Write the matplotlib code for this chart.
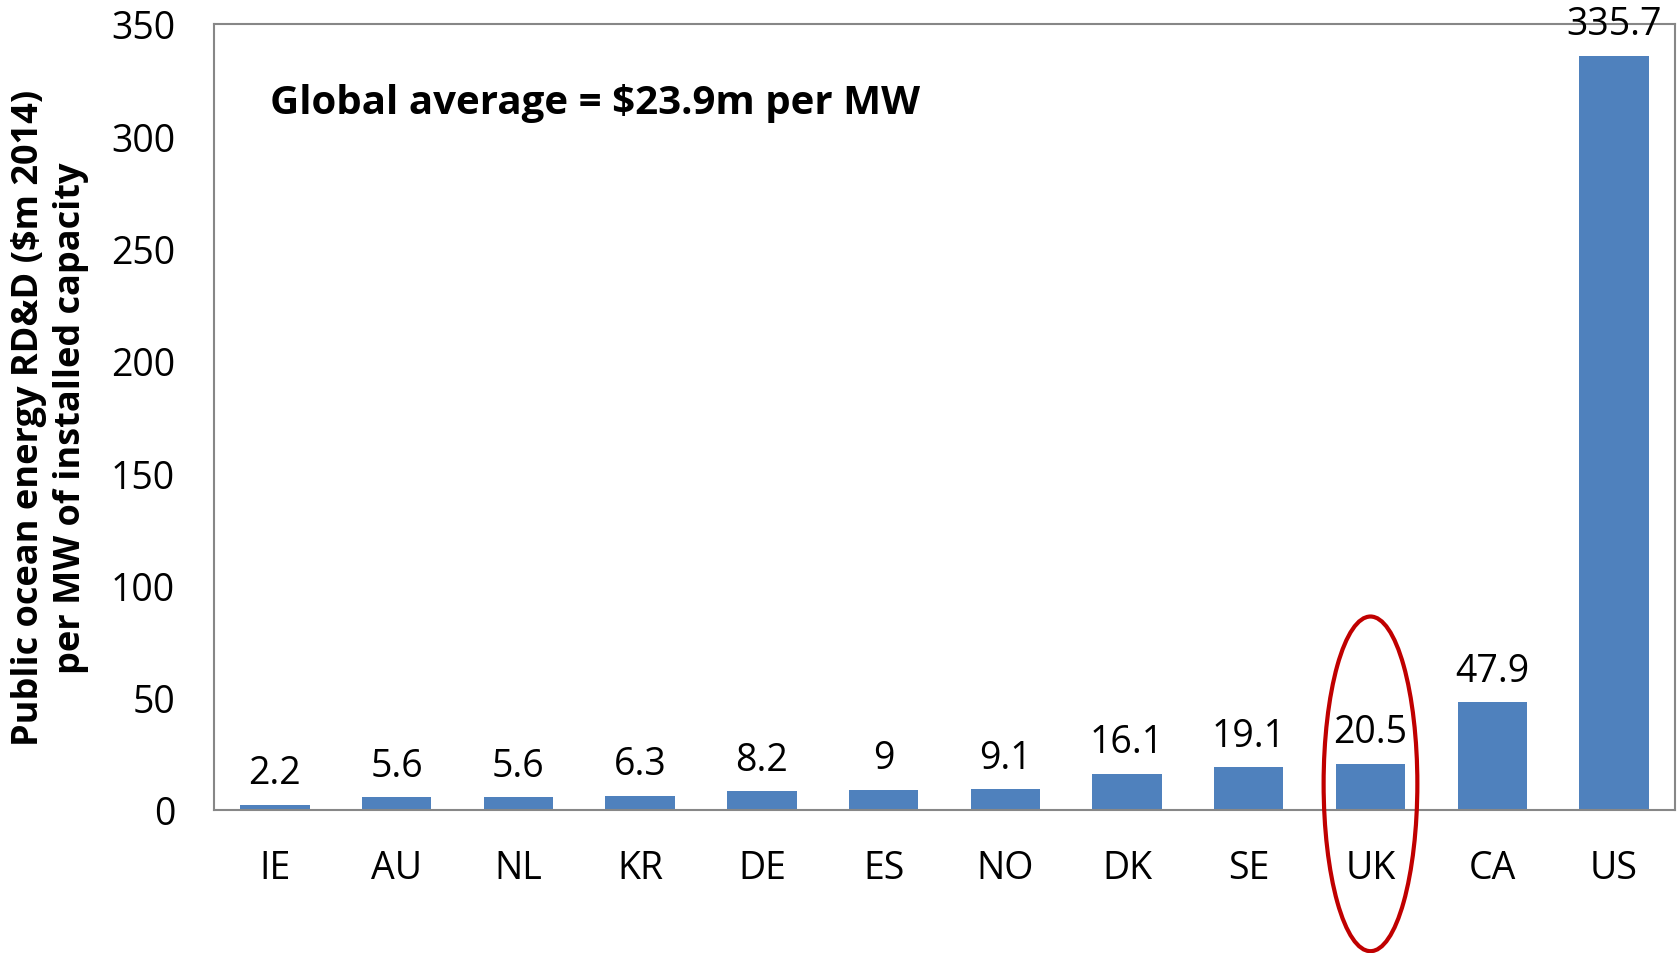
import matplotlib.pyplot as plt
from matplotlib.patches import Ellipse

# Public ocean energy RD&D per MW of installed capacity, by country
paises = ["IE", "AU", "NL", "KR", "DE", "ES", "NO", "DK", "SE", "UK", "CA", "US"]
valores = [2.2, 5.6, 5.6, 6.3, 8.2, 9, 9.1, 16.1, 19.1, 20.5, 47.9, 335.7]
rotulos = ["2.2", "5.6", "5.6", "6.3", "8.2", "9", "9.1", "16.1", "19.1", "20.5", "47.9", "335.7"]
yticks = [0, 50, 100, 150, 200, 250, 300, 350]

plt.rcParams["font.family"] = ["Open Sans", "DejaVu Sans"]

cor_barra = "#4f81bd"
cor_eixo = "#878787"

fig = plt.figure(figsize=(16.79, 9.54), dpi=100)
ax = fig.add_axes([0.1275, 0.150, 0.870, 0.824])

x = range(len(paises))
ax.bar(x, valores, width=0.57, color=cor_barra, zorder=2)

# Rótulos de valor acima das barras
for xi, v, r in zip(x, valores, rotulos):
    ax.annotate(r, (xi, v), xytext=(0, 9), textcoords="offset points",
                ha="center", va="bottom", fontsize=27, clip_on=False)

ax.set_xlim(-0.5, len(paises) - 0.5)
ax.set_ylim(0, 350)
ax.set_yticks(yticks)
ax.set_xticks(list(x))
ax.set_xticklabels(paises)
ax.tick_params(axis="both", length=0, labelsize=27)
ax.tick_params(axis="x", pad=28)
ax.tick_params(axis="y", pad=28)

for s in ax.spines.values():
    s.set_color(cor_eixo)
    s.set_linewidth(1.5)

ax.set_ylabel("Public ocean energy RD&D ($m 2014)\nper MW of installed capacity",
              fontsize=26, fontweight="bold", labelpad=16, linespacing=1.2)

ax.text(0.038, 0.9, "Global average = $23.9m per MW", transform=ax.transAxes,
        fontsize=29, fontweight="bold", ha="left", va="center")

# Destaque do Reino Unido
uk = paises.index("UK")
elipse = Ellipse((uk, 11.6), width=0.77, height=149, fill=False,
                 edgecolor="#c00000", linewidth=3, clip_on=False, zorder=3)
ax.add_patch(elipse)

fig.savefig("out.png", dpi=100)
